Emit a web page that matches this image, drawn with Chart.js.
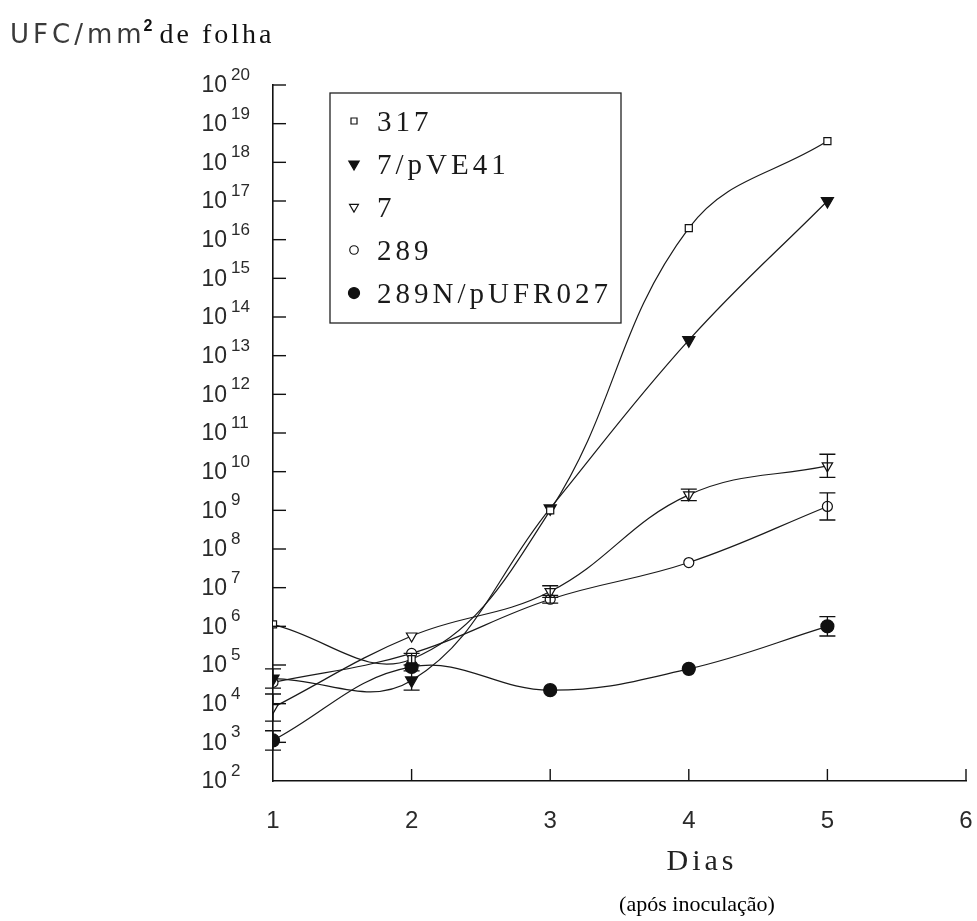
<!DOCTYPE html>
<html lang="pt">
<head>
<meta charset="UTF-8">
<title>UFC/mm² de folha</title>
<style>
  html, body { margin: 0; padding: 0; background: #fff; }
  canvas { display: block; }
</style>
</head>
<body>
<canvas id="ufcChart" width="977" height="921"></canvas>
<script src="https://cdn.jsdelivr.net/npm/chart.js"></script>
<script>
// dias após inoculação
const dias = [1, 2, 3, 4, 5];
const xTicks = [1, 2, 3, 4, 5, 6];
// expoentes das marcas do eixo y (10^2 ... 10^20)
const yExps = [2, 3, 4, 5, 6, 7, 8, 9, 10, 11, 12, 13, 14, 15, 16, 17, 18, 19, 20];

// log10 de UFC/mm2 por estirpe
const log317   = [6.05, 5.15, 9.0, 16.3, 18.55];
const logPVE41 = [4.65, 4.6, 9.05, 13.4, 17.0];
const log7     = [3.9, 5.75, 6.9, 9.4, 10.15];
const log289   = [4.55, 5.3, 6.7, 7.65, 9.1];
const log289N  = [3.05, 4.95, 4.35, 4.9, 6.0];

// barras de erro (em décadas, 0 = sem barra)
const err317   = [0, 0.15, 0, 0, 0];
const errPVE41 = [0.25, 0.25, 0, 0, 0];
const err7     = [0.35, 0, 0.15, 0.15, 0.3];
const err289   = [0, 0, 0.1, 0, 0.35];
const err289N  = [0.25, 0, 0, 0, 0.25];

const series = [
  { label: '317', log: log317, err: err317, style: 'rect', radius: 5, rotation: 0, filled: false },
  { label: '7/pVE41', log: logPVE41, err: errPVE41, style: 'triangle', radius: 7, rotation: 180, filled: true },
  { label: '7', log: log7, err: err7, style: 'triangle', radius: 6, rotation: 180, filled: false },
  { label: '289', log: log289, err: err289, style: 'circle', radius: 5, rotation: 0, filled: false },
  { label: '289N/pUFR027', log: log289N, err: err289N, style: 'circle', radius: 6.5, rotation: 0, filled: true }
];

const INK = '#111';

// marcador simples para a legenda
function drawMarker(ctx, s, x, y, r) {
  ctx.save();
  ctx.beginPath();
  if (s.style === 'rect') {
    const h = r * Math.SQRT1_2;
    ctx.rect(x - h, y - h, 2 * h, 2 * h);
  } else if (s.style === 'triangle') {
    ctx.moveTo(x, y + r);
    ctx.lineTo(x - r * 0.87, y - r * 0.5);
    ctx.lineTo(x + r * 0.87, y - r * 0.5);
    ctx.closePath();
  } else {
    ctx.arc(x, y, r, 0, Math.PI * 2);
  }
  ctx.fillStyle = s.filled ? INK : '#fff';
  ctx.fill();
  ctx.lineWidth = 1.2;
  ctx.strokeStyle = INK;
  ctx.stroke();
  ctx.restore();
}

const decor = {
  id: 'decor',
  afterDatasetsDraw(chart) {
    const ctx = chart.ctx, xs = chart.scales.x, ys = chart.scales.y;
    ctx.save();
    ctx.strokeStyle = INK;
    ctx.lineWidth = 1.3;
    series.forEach(s => {
      s.err.forEach((e, i) => {
        if (!e) return;
        const px = xs.getPixelForValue(dias[i]);
        const top = ys.getPixelForValue(Math.pow(10, s.log[i] + e));
        const bot = ys.getPixelForValue(Math.pow(10, s.log[i] - e));
        ctx.beginPath();
        ctx.moveTo(px, top); ctx.lineTo(px, bot);
        ctx.moveTo(px - 8, top); ctx.lineTo(px + 8, top);
        ctx.moveTo(px - 8, bot); ctx.lineTo(px + 8, bot);
        ctx.stroke();
      });
    });
    ctx.restore();
  },
  afterDraw(chart) {
    const ctx = chart.ctx, xs = chart.scales.x, ys = chart.scales.y;
    const area = chart.chartArea;
    ctx.save();

    // marcas para dentro no eixo y e rótulos 10^n
    ctx.strokeStyle = INK;
    ctx.lineWidth = 1.4;
    ctx.fillStyle = '#2a2a2a';
    yExps.forEach(e => {
      const py = ys.getPixelForValue(Math.pow(10, e));
      if (e > yExps[0]) {
        ctx.beginPath();
        ctx.moveTo(area.left, py);
        ctx.lineTo(area.left + 13, py);
        ctx.stroke();
      }
      ctx.font = '23px "Liberation Sans"';
      ctx.textAlign = 'right';
      ctx.textBaseline = 'middle';
      ctx.fillText('10', area.left - 46, py + 1);
      ctx.font = '17px "Liberation Sans"';
      ctx.textAlign = 'left';
      ctx.textBaseline = 'alphabetic';
      ctx.fillText(String(e), area.left - 42, py - 5);
    });

    // marcas para dentro no eixo x
    xTicks.forEach(v => {
      if (v === xTicks[0]) return;
      const px = xs.getPixelForValue(v);
      ctx.beginPath();
      ctx.moveTo(px, area.bottom);
      ctx.lineTo(px, area.bottom - 12);
      ctx.stroke();
    });

    // título do eixo y
    ctx.textAlign = 'left';
    ctx.textBaseline = 'alphabetic';
    ctx.letterSpacing = '4px';
    ctx.font = '26px "DejaVu Sans"';
    ctx.fillStyle = '#3a3a3a';
    ctx.fillText('UFC/mm', 10, 43);
    const w = ctx.measureText('UFC/mm').width;
    ctx.letterSpacing = '0px';
    ctx.font = 'bold 16px "Liberation Sans"';
    ctx.fillStyle = INK;
    ctx.fillText('2', 10 + w - 2, 31);
    ctx.letterSpacing = '3px';
    ctx.font = '28px "Liberation Serif"';
    ctx.fillText('de folha', 10 + w + 14, 43);

    // títulos do eixo x
    ctx.textAlign = 'center';
    ctx.letterSpacing = '4px';
    ctx.font = '30px "Liberation Serif"';
    ctx.fillStyle = '#222';
    ctx.fillText('Dias', 702, 870);
    ctx.letterSpacing = '0px';
    ctx.font = '22px "Liberation Serif"';
    ctx.fillStyle = '#000';
    ctx.fillText('(após inoculação)', 697, 911);

    // legenda com moldura
    const box = { left: 330, top: 93, right: 621, bottom: 323 };
    ctx.lineWidth = 1.3;
    ctx.strokeStyle = '#222';
    ctx.strokeRect(box.left, box.top, box.right - box.left, box.bottom - box.top);
    ctx.textAlign = 'left';
    ctx.textBaseline = 'middle';
    ctx.letterSpacing = '4px';
    ctx.font = '29px "Liberation Serif"';
    ctx.fillStyle = '#1a1a1a';
    series.forEach((s, i) => {
      const cy = 121 + i * 43;
      drawMarker(ctx, s, box.left + 24, cy, s.radius * 0.85);
      ctx.fillText(s.label, box.left + 47, cy + 2);
    });

    ctx.restore();
  }
};

new Chart(document.getElementById('ufcChart'), {
  type: 'line',
  data: {
    datasets: series.map(s => ({
      label: s.label,
      data: dias.map((d, i) => ({ x: d, y: Math.pow(10, s.log[i]) })),
      borderColor: '#1a1a1a',
      borderWidth: 1.2,
      tension: 0.4,
      fill: false,
      pointStyle: s.style,
      pointRadius: s.radius,
      pointRotation: s.rotation,
      pointBackgroundColor: s.filled ? INK : '#fff',
      pointBorderColor: INK,
      pointBorderWidth: 1.2
    }))
  },
  options: {
    responsive: false,
    animation: false,
    layout: { autoPadding: false, padding: { left: 0, top: 85, right: 11, bottom: 0 } },
    plugins: {
      legend: { display: false },
      tooltip: { enabled: false }
    },
    scales: {
      x: {
        type: 'linear',
        min: 1,
        max: 6,
        afterBuildTicks: scale => { scale.ticks = xTicks.map(v => ({ value: v })); },
        afterFit: scale => {
          scale.height = 140;
          scale.paddingLeft = 0;
          scale.paddingRight = 0;
        },
        grid: { display: false },
        border: { display: true, color: INK, width: 1.6 },
        ticks: {
          color: '#2a2a2a',
          padding: 18,
          font: { family: '"Liberation Sans"', size: 24 }
        }
      },
      y: {
        type: 'logarithmic',
        min: 1e2,
        max: 1e20,
        afterBuildTicks: scale => { scale.ticks = yExps.map(e => ({ value: Math.pow(10, e) })); },
        afterFit: scale => { scale.width = 273; },
        grid: { display: false },
        border: { display: true, color: INK, width: 1.6 },
        ticks: { display: false }
      }
    }
  },
  plugins: [decor]
});
</script>
</body>
</html>
